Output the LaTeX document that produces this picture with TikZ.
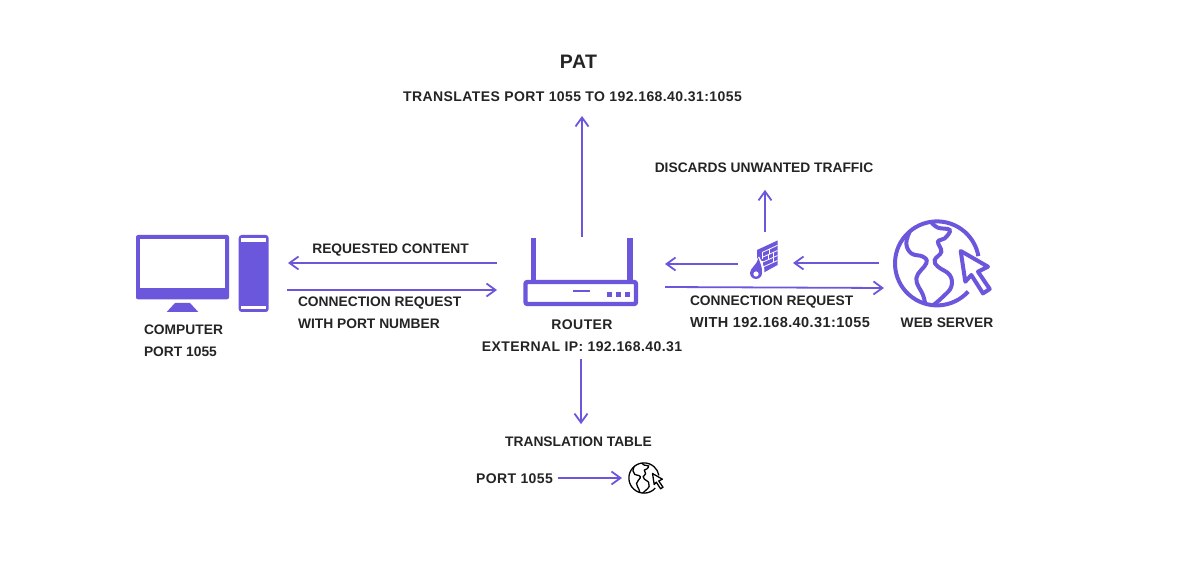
\documentclass[tikz,border=0pt]{standalone}
\usepackage{fontspec}
\newfontfamily\labelfont{Liberation Sans}
\newfontfamily\numberfont[LetterSpace=3]{Liberation Sans}
\usetikzlibrary{arrows.meta,positioning}
\definecolor{patviolet}{HTML}{6B57DB}
\definecolor{labelink}{HTML}{242424}

\tikzset{
  computericon/.pic={
    \fill[rounded corners=2pt] (-67,-38.5) rectangle (26,25.8);
    \fill[white] (-63,-34.5) rectangle (22.3,14.8);
    \fill (-28,29.5) -- (-13,29.5) -- (-4.7,38.5) -- (-36.3,38.5) -- cycle;
    \fill[rounded corners=3pt] (35.7,-38.5) rectangle (65.7,38.5);
    \fill[white] (38,-35.5) rectangle (63.3,-31.5);
    \fill[white] (38,32.2) rectangle (63.3,35.8);
  },
  routericon/.pic={
    \fill (-51.3,-34.3) rectangle (-46.3,8);
    \fill (45.3,-34.3) rectangle (50.7,8);
    \draw[line width=4.4pt,rounded corners=2pt,fill=white] (-56.5,10) rectangle (54,32);
    \fill (-9.3,18) rectangle (8.3,20);
    \fill (25,20.3) rectangle (30,25);
    \fill (34,20.3) rectangle (39,25);
    \fill (43,20.3) rectangle (48,25);
  },
  firewallicon/.pic={
    \fill (-9,-8) -- (11.5,-17.5) -- (11.5,7) -- (-3,15) -- (-3,3) -- (-9,3) -- cycle;
    \draw[white,line width=.8pt] (-4,-5.5) -- (11.5,-12.7);
    \draw[white,line width=.8pt] (-3,-1) -- (11.5,-7.5);
    \draw[white,line width=.8pt] (-3,4) -- (11.5,-2.5);
    \draw[white,line width=.8pt] (-3,9) -- (11.5,2.5);
    \draw[white,line width=.8pt] (-4,-5.5) -- (-4,1);
    \draw[white,line width=.6pt] (3,-8.5) -- (3,-4) (7,-5.5) -- (7,-1) (2,-3) -- (2,1.5) (7,0) -- (7,4.5);
    \fill[white] (-7,-1.5) .. controls (-4,4) and (-1,9) .. (-1.5,15) arc (0:180:8.5) .. controls (-18,9) and (-11,5) .. cycle;
    \fill (-7.5,0) .. controls (-6,5) and (-3.5,9) .. (-4,15) arc (0:180:6) .. controls (-16,10) and (-9,7) .. cycle;
    \fill[white] (-10,16) circle (2.6);
  },
  globeicon/.pic={
    \draw (42:42) arc (42:350:42);
    \draw plot[smooth,tension=.7] coordinates {(-27.3,-31.7) (-30.7,-20) (-25.7,-10) (-14,-6.7) (-10.7,-.1) (-20.7,15) (-14,31.6) (-11.7,41)};
    \draw plot[smooth,tension=.7] coordinates {(-5.7,-41) (1,-35.7) (12.7,-33.4) (7.7,-25) (1,-21.7) (4.3,-11.7) (-2.3,-3.4) (1,3.3) (12.7,11.6) (14.3,23.3) (6,33.3) (-4,42)};
    \draw[fill=white,line join=round] (23.7,-12.4) -- (28.3,18.3) -- (34.3,11.6) -- (46,30) -- (52.7,25.6) -- (41,8.3) -- (51,3.3) -- cycle;
  }
}

\begin{document}
\begin{tikzpicture}[
    x=1pt,
    y=-1pt,
    iconbox/.style={inner sep=0pt, outer sep=0pt, minimum width=#1},
    caption/.style={inner sep=0pt, outer sep=0pt, text=labelink, align=left, font=\labelfont\bfseries\fontsize{13.8}{22}\selectfont},
    numcaption/.style={caption, font=\numberfont\bfseries\fontsize{14}{22}\selectfont},
    arrow/.style={-{Straight Barb[length=9pt,width=13pt,line width=1.8pt]}, line width=1.8pt, draw=patviolet}
]
\useasboundingbox (0,0) rectangle (1197,577);

% icons
\node[iconbox=134pt, minimum height=78pt] (computer) at (203,273.5) {};
\node[iconbox=120pt, minimum height=70pt] (router) at (582,272) {};
\node[iconbox=32pt, minimum height=40pt] (firewall) at (766,258) {};
\node[iconbox=100pt, minimum height=90pt] (webserver) at (942,264) {};
\node[iconbox=37pt, minimum height=32pt] (tableglobe) at (646.5,478) {};

\pic[patviolet] at (computer) {computericon};
\pic[patviolet] at (router) {routericon};
\pic[patviolet] at (firewall) {firewallicon};
\pic[patviolet, line width=4pt] at (937,263.4) {globeicon};
\pic[black, line width=1.3pt, scale=.36] at (644,478) {globeicon};

% labels
\node[caption, font=\numberfont\bfseries\fontsize{19.5}{22}\selectfont] (pat) at (578.5,62) {PAT};
\node[numcaption] (patport) at (572.5,97) {TRANSLATES PORT 1055 TO 192.168.40.31:1055};
\node[caption] (discards) at (764,168) {DISCARDS UNWANTED TRAFFIC};
\node[caption] (requested) at (390.5,250) {REQUESTED CONTENT};
\node[caption, anchor=west] (connport) at (298,313) {CONNECTION REQUEST\\WITH PORT NUMBER};
\node[caption, anchor=west] (connip) at (690,312) {CONNECTION REQUEST\\{\numberfont\bfseries\fontsize{14.5}{22}\selectfont WITH 192.168.40.31:1055}};
\node[caption, anchor=west] (computerlabel) at (144,341) {COMPUTER\\PORT 1055};
\node[numcaption, align=center] (routerlabel) at (582,336) {ROUTER\\EXTERNAL IP: 192.168.40.31};
\node[caption] (weblabel) at (947,323) {WEB SERVER};
\node[caption] (tablelabel) at (578.5,442) {TRANSLATION TABLE};
\node[numcaption] (portlabel) at (514.5,479) {PORT 1055};

% connectors
\draw[arrow] (router.north) -- ([xshift=9.5pt,yshift=-14pt]patport.south);
\draw[arrow] ([xshift=-25pt,yshift=9pt]router.west) -- ([xshift=18pt,yshift=10.5pt]computer.east);
\draw[arrow] ([xshift=17pt,yshift=-16.5pt]computer.east) -- ([xshift=-25pt,yshift=-18pt]router.west);
\draw[arrow] ([xshift=-12pt,yshift=-6pt]firewall.west) -- ([xshift=23pt,yshift=8pt]router.east);
\draw[arrow] ([xshift=-13pt,yshift=1pt]webserver.west) -- ([xshift=11pt,yshift=-5pt]firewall.east);
\draw[arrow] ([xshift=23pt,yshift=-15pt]router.east) -- ([xshift=-8pt,yshift=-24pt]webserver.west);
\draw[arrow] ([xshift=-1pt,yshift=6pt]firewall.north) -- ([xshift=1pt,yshift=-17pt]discards.south);
\draw[arrow] ([xshift=-1pt,yshift=-7pt]routerlabel.south) -- ([xshift=2.5pt,yshift=13pt]tablelabel.north);
\draw[arrow] ([xshift=5pt,yshift=1pt]portlabel.east) -- ([xshift=-6pt]tableglobe.west);

\end{tikzpicture}
\end{document}
